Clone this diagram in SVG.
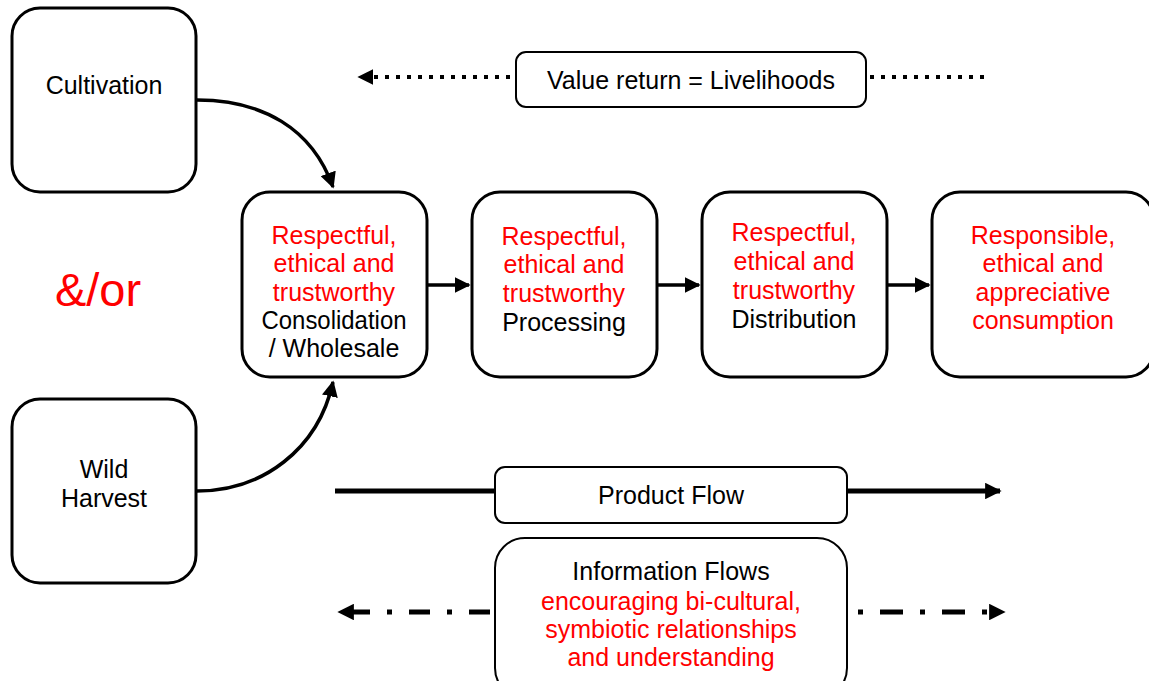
<svg xmlns="http://www.w3.org/2000/svg" width="1149" height="681" viewBox="0 0 1149 681">
<defs>
<style>
.box{fill:#fff;stroke:#000;stroke-width:3}
.sm{stroke-width:2}
.t{font-family:"Liberation Sans",Arial,sans-serif;font-size:25px;text-anchor:middle;fill:#000}
.r{fill:#ff0000}
.ln{fill:none;stroke:#000;stroke-width:3.5}
.dot{stroke-width:4;stroke-dasharray:4 7}
.thick{stroke-width:5}
</style>
<marker id="ah" viewBox="0 0 10 10" refX="9" refY="5" markerWidth="4.6" markerHeight="4.6" orient="auto-start-reverse" markerUnits="strokeWidth">
<path d="M0,0 L10,5 L0,10 z" fill="#000"/>
</marker>
<marker id="ah2" viewBox="0 0 10 10" refX="9" refY="5" markerWidth="3.3" markerHeight="3.3" orient="auto-start-reverse" markerUnits="strokeWidth">
<path d="M0,0 L10,5 L0,10 z" fill="#000"/>
</marker>
<marker id="ah3" viewBox="0 0 10 10" refX="9" refY="5" markerWidth="4" markerHeight="4" orient="auto-start-reverse" markerUnits="strokeWidth">
<path d="M0,0 L10,5 L0,10 z" fill="#000"/>
</marker>
</defs>
<rect width="1149" height="681" fill="#fff"/>
<g id="connectors">
<path class="ln" d="M197,100 C262,100 312,128 333,187" marker-end="url(#ah)"/>
<path class="ln" d="M197,491 C262,491 318,450 333,382" marker-end="url(#ah)"/>
<line class="ln" x1="428" y1="285" x2="469" y2="285" marker-end="url(#ah)"/>
<line class="ln" x1="658" y1="285" x2="699" y2="285" marker-end="url(#ah)"/>
<line class="ln" x1="888" y1="285" x2="929" y2="285" marker-end="url(#ah)"/>
<line class="ln dot" x1="510" y1="77" x2="359" y2="77" marker-end="url(#ah3)"/>
<line class="ln dot" x1="870" y1="77" x2="984" y2="77"/>
<line class="ln thick" x1="335" y1="491" x2="495" y2="491"/>
<line class="ln thick" x1="847" y1="491" x2="1000" y2="491" marker-end="url(#ah2)"/>
<line class="ln thick" x1="490" y1="612" x2="339" y2="612" style="stroke-dasharray:21 17 5 17" marker-end="url(#ah2)"/>
<line class="ln thick" x1="858" y1="612" x2="1004" y2="612" style="stroke-dasharray:5 17 23 17" marker-end="url(#ah2)"/>
</g>
<g id="cultivation">
<rect class="box" x="12" y="8" width="184" height="184" rx="28"/>
<text class="t" x="104" y="94">Cultivation</text>
</g>
<g id="wild-harvest">
<rect class="box" x="12" y="399" width="184" height="184" rx="28"/>
<text class="t" x="104" y="478">Wild</text>
<text class="t" x="104" y="507">Harvest</text>
</g>
<g id="andor">
<text class="t r" x="98" y="306" style="font-size:47px">&amp;/or</text>
</g>
<g id="consolidation">
<rect class="box" x="242" y="192" width="185" height="185" rx="28"/>
<text class="t r" x="334" y="244">Respectful,</text>
<text class="t r" x="334" y="272">ethical and</text>
<text class="t r" x="334" y="301">trustworthy</text>
<text class="t" x="334" y="329" textLength="145" lengthAdjust="spacingAndGlyphs">Consolidation</text>
<text class="t" x="334" y="357">/ Wholesale</text>
</g>
<g id="processing">
<rect class="box" x="472" y="192" width="185" height="185" rx="28"/>
<text class="t r" x="564" y="245">Respectful,</text>
<text class="t r" x="564" y="273">ethical and</text>
<text class="t r" x="564" y="302">trustworthy</text>
<text class="t" x="564" y="331">Processing</text>
</g>
<g id="distribution">
<rect class="box" x="702" y="192" width="185" height="185" rx="28"/>
<text class="t r" x="794" y="241">Respectful,</text>
<text class="t r" x="794" y="270">ethical and</text>
<text class="t r" x="794" y="299">trustworthy</text>
<text class="t" x="794" y="328">Distribution</text>
</g>
<g id="consumption">
<rect class="box" x="932" y="192" width="222" height="185" rx="28"/>
<text class="t r" x="1043" y="244">Responsible,</text>
<text class="t r" x="1043" y="272">ethical and</text>
<text class="t r" x="1043" y="301">appreciative</text>
<text class="t r" x="1043" y="329">consumption</text>
</g>
<g id="value-return">
<rect class="box sm" x="516" y="52" width="350" height="55" rx="10"/>
<text class="t" x="691" y="89">Value return = Livelihoods</text>
</g>
<g id="product-flow">
<rect class="box sm" x="495" y="467" width="352" height="56" rx="10"/>
<text class="t" x="671" y="504">Product Flow</text>
</g>
<g id="information-flows">
<rect class="box sm" x="495" y="538" width="352" height="160" rx="30"/>
<text class="t" x="671" y="580">Information Flows</text>
<text class="t r" x="671" y="610">encouraging bi-cultural,</text>
<text class="t r" x="671" y="638">symbiotic relationships</text>
<text class="t r" x="671" y="666">and understanding</text>
</g>
</svg>
